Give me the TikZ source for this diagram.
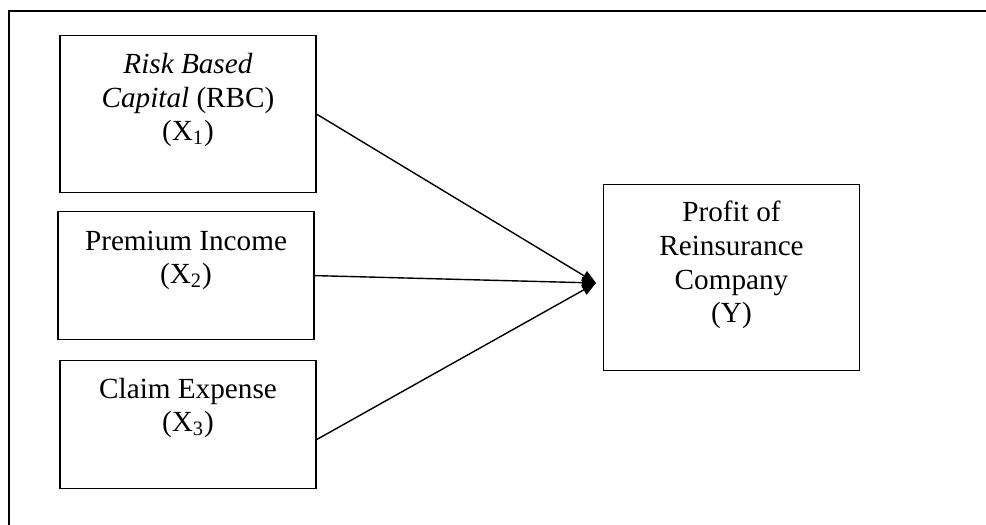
\documentclass[tikz,border=0pt]{standalone}
\usepackage{fontspec}
\setmainfont{Liberation Serif}
\usepackage{tikz}
\usetikzlibrary{positioning}
\usetikzlibrary{arrows.meta}

\begin{document}
\begin{tikzpicture}[x=0.5pt, y=-0.5pt,
    varbox/.style={draw, line width=0.6pt, anchor=north, align=center, inner sep=0pt,
      minimum width=128pt, font=\fontsize{14.6}{16.8}\selectfont},
    link/.style={line width=0.7pt, -{Triangle[length=7pt, width=5.5pt]}}]
      \useasboundingbox (0,0) rectangle (986,525);
      \draw[line width=0.8pt] (9,525) -- (9,11) -- (986,11);
      \node[varbox, text height=52.5pt, text depth=26pt] (rbc) at (188,35)
        {\textit{Risk Based}\\ \textit{Capital} (RBC)\\ (X\textsubscript{1})};
      \node[varbox, text height=36pt, text depth=28pt] (premi) at (186,211)
        {Premium Income\\ (X\textsubscript{2})};
      \node[varbox, text height=35.5pt, text depth=28.5pt] (klaim) at (188,360)
        {Claim Expense\\ (X\textsubscript{3})};
      \node[varbox, text height=69pt, text depth=24pt] (laba) at (731.5,184)
        {Profit of\\ Reinsurance\\ Company\\ (Y)};
      \coordinate (tip) at (596,283);
      \draw[link] (rbc.east) -- (tip);
      \draw[link] (premi.east) -- (tip);
      \draw[link] ([yshift=-7.5pt]klaim.east) -- (tip);
\end{tikzpicture}
\end{document}
